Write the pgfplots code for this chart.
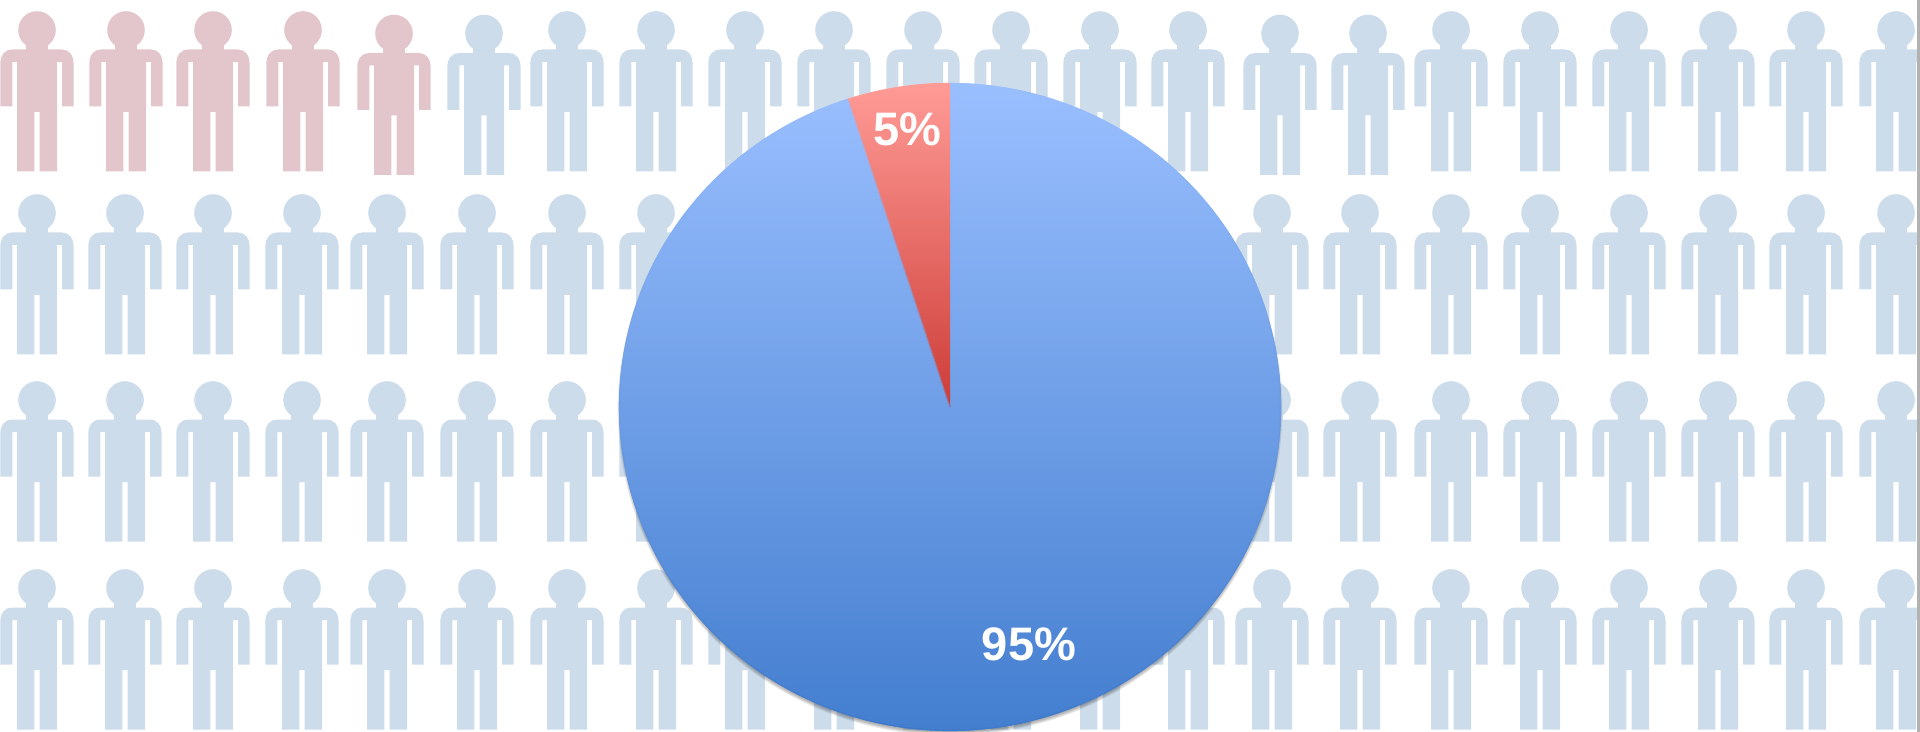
\documentclass[border=0pt]{standalone}
\usepackage{fontspec}
\setmainfont{Liberation Sans}
\usepackage{pgfplots}
\usepackage{pgfplotstable}
\usetikzlibrary{calc}
\pgfplotsset{compat=1.18}

\definecolor{personblue}{RGB}{205,220,235}
\definecolor{personred}{RGB}{227,198,203}
\definecolor{pietop}{RGB}{154,191,255}
\definecolor{piebottom}{RGB}{62,122,204}
\definecolor{slicetop}{RGB}{255,155,150}
\definecolor{slicebottom}{RGB}{205,60,55}

% Pictogram of one person, anchored at the centre of the head
\pgfdeclareplotmark{person}{%
  \pgfpathcircle{\pgfpointorigin}{9.4pt}%
  \pgfusepathqfill
  \pgfpathmoveto{\pgfpoint{-5.5pt}{-7pt}}%
  \pgfpathlineto{\pgfpoint{5.5pt}{-7pt}}%
  \pgfpathlineto{\pgfpoint{5.5pt}{-11pt}}%
  \pgfpathlineto{\pgfpoint{-5.5pt}{-11pt}}%
  \pgfpathclose
  \pgfusepathqfill
  \pgfpathmoveto{\pgfpoint{-18.35pt}{-38.25pt}}%
  \pgfpathlineto{\pgfpoint{-18.35pt}{-17pt}}%
  \pgfpathcurveto{\pgfpoint{-18.35pt}{-12.5pt}}{\pgfpoint{-16pt}{-9.75pt}}{\pgfpoint{-12.5pt}{-9.75pt}}%
  \pgfpathlineto{\pgfpoint{12.5pt}{-9.75pt}}%
  \pgfpathcurveto{\pgfpoint{16pt}{-9.75pt}}{\pgfpoint{18.3pt}{-12.5pt}}{\pgfpoint{18.3pt}{-17pt}}%
  \pgfpathlineto{\pgfpoint{18.3pt}{-38.25pt}}%
  \pgfpathlineto{\pgfpoint{12.5pt}{-38.25pt}}%
  \pgfpathlineto{\pgfpoint{12.5pt}{-16pt}}%
  \pgfpathlineto{\pgfpoint{10pt}{-16pt}}%
  \pgfpathlineto{\pgfpoint{10pt}{-70.75pt}}%
  \pgfpathlineto{\pgfpoint{1.3pt}{-70.75pt}}%
  \pgfpathlineto{\pgfpoint{1.3pt}{-41pt}}%
  \pgfpathlineto{\pgfpoint{-1.35pt}{-41pt}}%
  \pgfpathlineto{\pgfpoint{-1.35pt}{-70.75pt}}%
  \pgfpathlineto{\pgfpoint{-10pt}{-70.75pt}}%
  \pgfpathlineto{\pgfpoint{-10pt}{-16pt}}%
  \pgfpathlineto{\pgfpoint{-12.35pt}{-16pt}}%
  \pgfpathlineto{\pgfpoint{-12.35pt}{-38.25pt}}%
  \pgfpathclose
  \pgfusepathqfill
}

% Shares of the pie
\pgfplotstableread{
group share
affected 5
others 95
}\pietable

% Head positions of the highlighted people
\pgfplotstableread{
x y
37 30
126 30
213 30
303 30
394 33.5
}\redpeople

% Head positions of everyone else
\pgfplotstableread{
x y
484 33.5
567 30
656 30
745 30
834 30
923 30
1011 30
1100 30
1188 30
1280 33.5
1368 33.5
1451 30
1540 30
1629 30
1718 30
1806 30
1896 30
37 213
125 213
213 213
302 213
387 213
477 213
567 213
656 213
745 213
834 213
923 213
1011 213
1100 213
1188 213
1272 213
1360 213
1451 213
1540 213
1629 213
1718 213
1806 213
1896 213
37 400
125 400
213 400
302 400
387 400
477 400
567 400
656 400
745 400
834 400
923 400
1011 400
1100 400
1188 400
1272 400
1360 400
1451 400
1540 400
1629 400
1718 400
1806 400
1896 400
37 588
125 588
213 588
302 588
387 588
477 588
567 588
656 588
745 588
834 588
923 588
1011 588
1100 588
1188 588
1272 588
1360 588
1451 588
1540 588
1629 588
1718 588
1806 588
1896 588
}\bluepeople

\pgfplotsset{canvas/.style={
  scale only axis,
  width=960pt, height=366pt,
  xmin=0, xmax=1920, ymin=0, ymax=732,
  y dir=reverse,
  hide axis,
}}

% Smooth rim around the shaded slices: short strokes that follow the gradient
\newcommand{\drawpierim}{%
  \foreach \k in {0,...,68}{%
    \pgfmathsetmacro{\ra}{\splitangle+\k/69*(\endangle-\splitangle)}%
    \pgfmathsetmacro{\rb}{\splitangle+(\k+1)/69*(\endangle-\splitangle)}%
    \pgfmathsetmacro{\rp}{50+50*sin((\ra+\rb)/2)}%
    \draw[draw=pietop!\rp!piebottom, line width=0.7pt, line cap=round]
      (axis cs:950,407) ++(\ra:165.2pt and 161.7pt)
      arc[start angle=\ra, end angle=\rb, x radius=165.2pt, y radius=161.7pt];
  }%
  \draw[draw=slicetop, line width=0.7pt]
    (axis cs:950,407) ++(90:165.2pt and 161.7pt)
    arc[start angle=90, end angle=\splitangle, x radius=165.2pt, y radius=161.7pt];
  \foreach \k in {0,...,15}{%
    \pgfmathsetmacro{\sa}{\k/16}%
    \pgfmathsetmacro{\sb}{(\k+1)/16}%
    \pgfmathsetmacro{\sm}{(\sa+\sb)/2}%
    \pgfmathsetmacro{\rp}{100*\sm}%
    \pgfmathsetmacro{\bp}{50+50*\sm*0.95}%
    \colorlet{edgered}{slicetop!\rp!slicebottom}%
    \colorlet{edgeblue}{pietop!\bp!piebottom}%
    \draw[draw=edgered!50!edgeblue, line width=0.55pt]
      ($(axis cs:950,407)!\sa!(axis cs:848,99)$) -- ($(axis cs:950,407)!\sb!(axis cs:848,99)$);
  }%
}

\begin{document}
\begin{tikzpicture}
\pgfplotstablegetelem{0}{share}\of\pietable
\pgfmathsetmacro{\smallshare}{\pgfplotsretval}
\edef\smalllabel{\pgfplotsretval}
\pgfplotstablegetelem{1}{share}\of\pietable
\edef\largelabel{\pgfplotsretval}
\pgfmathsetmacro{\splitangle}{90+3.6*\smallshare}
\pgfmathsetmacro{\endangle}{90+360}

% Rows of people in the background
\begin{axis}[canvas]
\addplot[only marks, mark=person, mark options={draw=none, fill=personred}] table[x=x, y=y] {\redpeople};
\addplot[only marks, mark=person, mark options={draw=none, fill=personblue}] table[x=x, y=y] {\bluepeople};
\end{axis}

% Pie on top of the rows
\begin{axis}[canvas, after end axis/.code={\drawpierim}]
% Soft shadow falling below the pie
\pgfplotsinvokeforeach{0,0.4,0.8,1.2,1.6}{
  \fill[black, opacity=0.07] (axis cs:950,410) ellipse[x radius={164.6pt+#1pt}, y radius={161.2pt+#1pt}];
}

% Slices, each with its own vertical gradient
\path[top color=pietop, bottom color=piebottom]
  (axis cs:950,407) -- ++(\splitangle:165.5pt and 162pt)
  arc[start angle=\splitangle, end angle=\endangle, x radius=165.5pt, y radius=162pt] -- cycle;
\path[top color=slicetop, bottom color=slicebottom]
  (axis cs:950,407) -- ++(90:165.5pt and 162pt)
  arc[start angle=90, end angle=\splitangle, x radius=165.5pt, y radius=162pt] -- cycle;

\node[text=white, font=\bfseries\fontsize{23.5}{28}\selectfont] at (axis cs:907,129) {\smalllabel\%};
\node[text=white, font=\bfseries\fontsize{23.5}{28}\selectfont] at (axis cs:1029,644) {\largelabel\%};

% Grey rule along the right edge
\fill[black!30] (axis cs:1917,0) rectangle (axis cs:1920,732);
\end{axis}

\pgfresetboundingbox
\path[use as bounding box] (0,0) rectangle (960pt,366pt);
\end{tikzpicture}
\end{document}
